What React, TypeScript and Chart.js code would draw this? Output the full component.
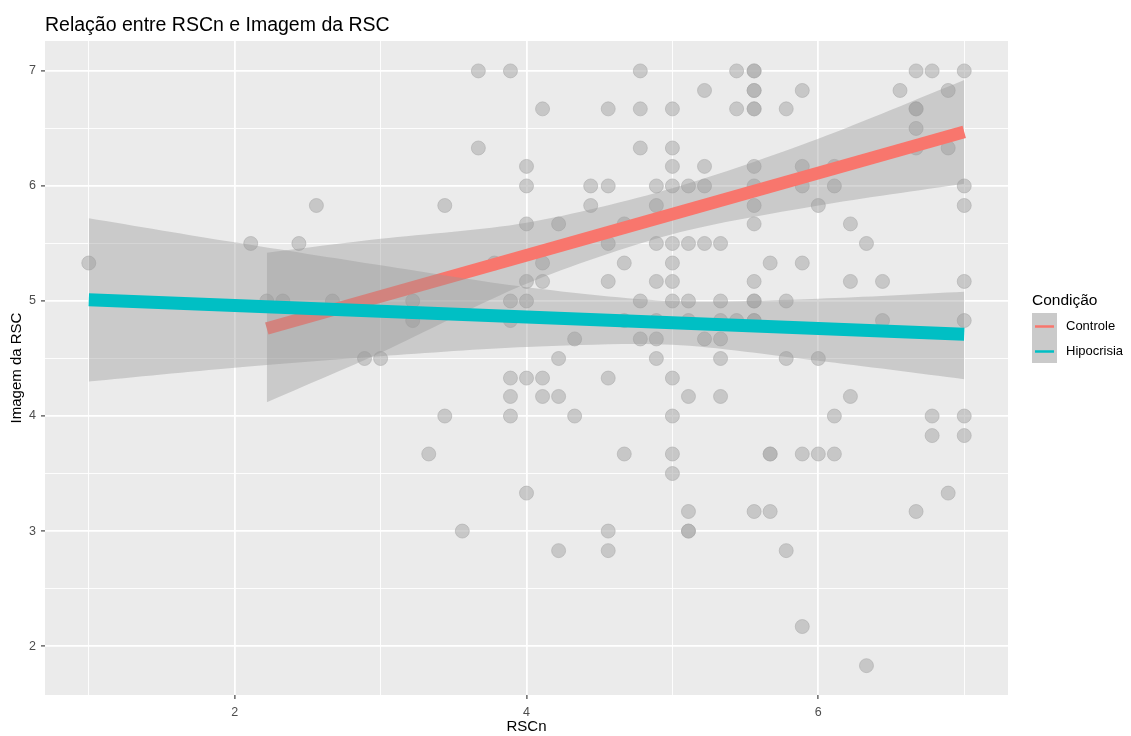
import React, { useEffect, useRef } from 'react';
import { Chart, registerables } from 'chart.js';

Chart.register(...registerables);

// ---- data ----
const rscn = [
  1.0,
  2.11, 2.22, 2.33, 2.44, 2.56, 2.67, 2.89, 3.0,
  3.22, 3.22, 3.33, 3.44, 3.44, 3.56, 3.67, 3.67, 3.78,
  3.89, 3.89, 3.89, 3.89, 3.89, 3.89,
  4.0, 4.0, 4.0, 4.0, 4.0, 4.0, 4.0,
  4.11, 4.11, 4.11, 4.11, 4.11,
  4.22, 4.22, 4.22, 4.22,
  4.33, 4.33,
  4.44, 4.44,
  4.56, 4.56, 4.56, 4.56, 4.56, 4.56, 4.56,
  4.67, 4.67, 4.67, 4.67,
  4.78, 4.78, 4.78, 4.78, 4.78,
  4.89, 4.89, 4.89, 4.89, 4.89, 4.89, 4.89,
  5.0, 5.0, 5.0, 5.0, 5.0, 5.0, 5.0, 5.0, 5.0, 5.0, 5.0, 5.0,
  5.11, 5.11, 5.11, 5.11, 5.11, 5.11, 5.11, 5.11,
  5.22, 5.22, 5.22, 5.22, 5.22,
  5.33, 5.33, 5.33, 5.33, 5.33, 5.33,
  5.44, 5.44, 5.44,
  5.56, 5.56, 5.56, 5.56, 5.56, 5.56, 5.56, 5.56, 5.56, 5.56, 5.56, 5.56, 5.56, 5.56, 5.56, 5.56,
  5.67, 5.67, 5.67, 5.67,
  5.78, 5.78, 5.78, 5.78,
  5.89, 5.89, 5.89, 5.89, 5.89, 5.89,
  6.0, 6.0, 6.0,
  6.11, 6.11, 6.11, 6.11,
  6.22, 6.22, 6.22,
  6.33, 6.33,
  6.44, 6.44,
  6.56,
  6.67, 6.67, 6.67, 6.67, 6.67, 6.67,
  6.78, 6.78, 6.78,
  6.89, 6.89, 6.89,
  7.0, 7.0, 7.0, 7.0, 7.0, 7.0, 7.0,
];

const imagem = [
  5.33,
  5.5, 5.0, 5.0, 5.5, 5.83, 5.0, 4.5, 4.5,
  5.0, 4.83, 3.67, 5.83, 4.0, 3.0, 7.0, 6.33, 5.33,
  7.0, 5.0, 4.83, 4.33, 4.17, 4.0,
  6.17, 6.0, 5.67, 5.17, 5.0, 4.33, 3.33,
  6.67, 5.33, 5.17, 4.33, 4.17,
  5.67, 4.5, 4.17, 2.83,
  4.67, 4.0,
  6.0, 5.83,
  6.67, 6.0, 5.5, 5.17, 4.33, 3.0, 2.83,
  5.67, 5.33, 4.83, 3.67,
  7.0, 6.67, 6.33, 5.0, 4.67,
  6.0, 5.83, 5.5, 5.17, 4.83, 4.67, 4.5,
  6.67, 6.33, 6.17, 6.0, 5.5, 5.33, 5.17, 5.0, 4.33, 4.0, 3.67, 3.5,
  6.0, 5.5, 5.0, 4.83, 4.17, 3.17, 3.0, 3.0,
  6.83, 6.17, 6.0, 5.5, 4.67,
  5.5, 5.0, 4.83, 4.67, 4.5, 4.17,
  7.0, 6.67, 4.83,
  7.0, 7.0, 6.83, 6.83, 6.67, 6.67, 6.17, 6.0, 5.83, 5.67, 5.17, 5.0, 5.0, 4.83, 4.83, 3.17,
  5.33, 3.67, 3.67, 3.17,
  6.67, 5.0, 4.5, 2.83,
  6.83, 6.17, 6.0, 5.33, 3.67, 2.17,
  5.83, 4.5, 3.67,
  6.17, 6.0, 4.0, 3.67,
  5.67, 5.17, 4.17,
  5.5, 1.83,
  5.17, 4.83,
  6.83,
  7.0, 6.67, 6.67, 6.5, 6.33, 3.17,
  7.0, 4.0, 3.83,
  6.83, 6.33, 3.33,
  7.0, 6.0, 5.83, 5.17, 4.83, 4.0, 3.83,
];

// regression lines
const controleLineX = [2.22, 7.0];
const controleLineY = [4.76, 6.47];
const hipocrisiaLineX = [1.0, 7.0];
const hipocrisiaLineY = [5.01, 4.71];

// confidence bands
const controleBandX = [2.22, 3.0, 4.0, 5.0, 6.0, 7.0];
const controleUpper = [5.42, 5.54, 5.68, 5.98, 6.41, 6.92];
const controleLower = [4.12, 4.55, 5.15, 5.58, 5.83, 6.02];
const hipocrisiaBandX = [1.0, 2.0, 3.0, 4.0, 5.0, 6.0, 7.0];
const hipocrisiaUpper = [5.72, 5.51, 5.31, 5.12, 5.0, 5.02, 5.08];
const hipocrisiaLower = [4.3, 4.42, 4.52, 4.6, 4.62, 4.48, 4.32];

// axes
const xGrid = [1, 2, 3, 4, 5, 6, 7];
const xMajor = [2, 4, 6];
const yGrid = [2, 2.5, 3, 3.5, 4, 4.5, 5, 5.5, 6, 6.5, 7];
const yMajor = [2, 3, 4, 5, 6, 7];

const seriesNames = ['Controle', 'Hipocrisia'];
const seriesColors = ['#F8766D', '#00BFC4'];

const FONT = "'Liberation Sans', Arial, Helvetica, sans-serif";
const BAND = 'rgba(153,153,153,0.4)';
const POINT = 'rgba(169,169,169,0.55)';

const zip = (xs: number[], ys: number[]) => xs.map((x, i) => ({ x, y: ys[i] }));

const decorPlugin = {
  id: 'ggdecor',
  beforeDraw(chart: any) {
    const { ctx, chartArea: a, width, height } = chart;
    ctx.save();
    ctx.fillStyle = '#FFFFFF';
    ctx.fillRect(0, 0, width, height);
    ctx.fillStyle = '#EBEBEB';
    ctx.fillRect(a.left, a.top, a.right - a.left, a.bottom - a.top);
    ctx.restore();
  },
  afterDraw(chart: any) {
    const { ctx, chartArea: a } = chart;
    ctx.save();
    // title
    ctx.fillStyle = '#000000';
    ctx.font = `19.5px ${FONT}`;
    ctx.textAlign = 'left';
    ctx.textBaseline = 'alphabetic';
    ctx.fillText('Relação entre RSCn e Imagem da RSC', a.left, 31);
    // x title
    ctx.font = `15px ${FONT}`;
    ctx.textAlign = 'center';
    ctx.textBaseline = 'middle';
    ctx.fillText('RSCn', (a.left + a.right) / 2, 727);
    // y title
    ctx.save();
    ctx.translate(17, (a.top + a.bottom) / 2);
    ctx.rotate(-Math.PI / 2);
    ctx.fillText('Imagem da RSC', 0, 0);
    ctx.restore();
    // legend
    const lx = 1032;
    ctx.textAlign = 'left';
    ctx.textBaseline = 'alphabetic';
    ctx.font = `15.5px ${FONT}`;
    ctx.fillText('Condição', lx, 305);
    const keyTop = 313;
    const keyH = 25;
    seriesNames.forEach((name, i) => {
      const ky = keyTop + i * keyH;
      ctx.fillStyle = '#CACACA';
      ctx.fillRect(lx, ky, 25, keyH);
      ctx.strokeStyle = seriesColors[i];
      ctx.lineWidth = 2.5;
      ctx.beginPath();
      ctx.moveTo(lx + 3, ky + keyH / 2 + 1);
      ctx.lineTo(lx + 22, ky + keyH / 2 + 1);
      ctx.stroke();
      ctx.fillStyle = '#000000';
      ctx.font = `13px ${FONT}`;
      ctx.textBaseline = 'middle';
      ctx.fillText(name, lx + 34, ky + keyH / 2 + 1);
    });
    ctx.restore();
  },
};

export default function App() {
  const canvasRef = useRef<HTMLCanvasElement | null>(null);

  useEffect(() => {
    if (!canvasRef.current) return;
    const tickFont = { family: FONT, size: 12.5 };
    const chart = new Chart(canvasRef.current, {
      type: 'scatter',
      data: {
        datasets: [
          {
            type: 'scatter',
            label: 'pontos',
            data: zip(rscn, imagem),
            backgroundColor: POINT,
            borderColor: POINT,
            borderWidth: 1,
            pointRadius: 7,
            order: 6,
          } as any,
          {
            type: 'line',
            label: 'controleUpper',
            data: zip(controleBandX, controleUpper),
            borderColor: 'rgba(0,0,0,0)',
            backgroundColor: BAND,
            pointRadius: 0,
            fill: '+1',
            tension: 0.3,
            order: 5,
          } as any,
          {
            type: 'line',
            label: 'controleLower',
            data: zip(controleBandX, controleLower),
            borderColor: 'rgba(0,0,0,0)',
            pointRadius: 0,
            fill: false,
            tension: 0.3,
            order: 5,
          } as any,
          {
            type: 'line',
            label: seriesNames[0],
            data: zip(controleLineX, controleLineY),
            borderColor: seriesColors[0],
            borderWidth: 12.5,
            borderCapStyle: 'butt',
            pointRadius: 0,
            fill: false,
            order: 4,
          } as any,
          {
            type: 'line',
            label: 'hipocrisiaUpper',
            data: zip(hipocrisiaBandX, hipocrisiaUpper),
            borderColor: 'rgba(0,0,0,0)',
            backgroundColor: BAND,
            pointRadius: 0,
            fill: '+1',
            tension: 0.3,
            order: 3,
          } as any,
          {
            type: 'line',
            label: 'hipocrisiaLower',
            data: zip(hipocrisiaBandX, hipocrisiaLower),
            borderColor: 'rgba(0,0,0,0)',
            pointRadius: 0,
            fill: false,
            tension: 0.3,
            order: 3,
          } as any,
          {
            type: 'line',
            label: seriesNames[1],
            data: zip(hipocrisiaLineX, hipocrisiaLineY),
            borderColor: seriesColors[1],
            borderWidth: 13,
            borderCapStyle: 'butt',
            pointRadius: 0,
            fill: false,
            order: 2,
          } as any,
        ],
      },
      options: {
        animation: false,
        responsive: false,
        maintainAspectRatio: false,
        events: [],
        layout: { padding: { top: 41, right: 123, bottom: 0, left: 0 } },
        plugins: {
          legend: { display: false },
          tooltip: { enabled: false },
          title: { display: false },
        },
        scales: {
          x: {
            type: 'linear',
            min: 0.7,
            max: 7.3,
            afterBuildTicks: (s: any) => {
              s.ticks = xGrid.map((v) => ({ value: v }));
            },
            afterFit: (s: any) => {
              s.height = 41;
            },
            border: { display: false },
            grid: {
              color: '#FFFFFF',
              lineWidth: (c: any) => (c.tick && xMajor.includes(c.tick.value) ? 1.8 : 0.9),
              tickColor: (c: any) => (c.tick && xMajor.includes(c.tick.value) ? '#333333' : 'rgba(0,0,0,0)'),
              tickWidth: 1.1,
              tickLength: 4,
            },
            ticks: {
              autoSkip: false,
              maxRotation: 0,
              padding: 6,
              color: '#4D4D4D',
              font: tickFont,
              callback: (v: any) => (xMajor.includes(Number(v)) ? String(v) : ''),
            },
          },
          y: {
            type: 'linear',
            min: 1.575,
            max: 7.26,
            afterBuildTicks: (s: any) => {
              s.ticks = yGrid.map((v) => ({ value: v }));
            },
            afterFit: (s: any) => {
              s.width = 45;
            },
            border: { display: false },
            grid: {
              color: '#FFFFFF',
              lineWidth: (c: any) => (c.tick && yMajor.includes(c.tick.value) ? 1.8 : 0.9),
              tickColor: (c: any) => (c.tick && yMajor.includes(c.tick.value) ? '#333333' : 'rgba(0,0,0,0)'),
              tickWidth: 1.1,
              tickLength: 4,
            },
            ticks: {
              autoSkip: false,
              padding: 5,
              color: '#4D4D4D',
              font: tickFont,
              callback: (v: any) => (yMajor.includes(Number(v)) ? String(v) : ''),
            },
          },
        },
      },
      plugins: [decorPlugin],
    } as any);
    return () => chart.destroy();
  }, []);

  return (
    <div style={{ position: 'absolute', left: 0, top: 0, width: 1131, height: 736 }}>
      <canvas ref={canvasRef} width={1131} height={736} style={{ width: 1131, height: 736 }} />
    </div>
  );
}
